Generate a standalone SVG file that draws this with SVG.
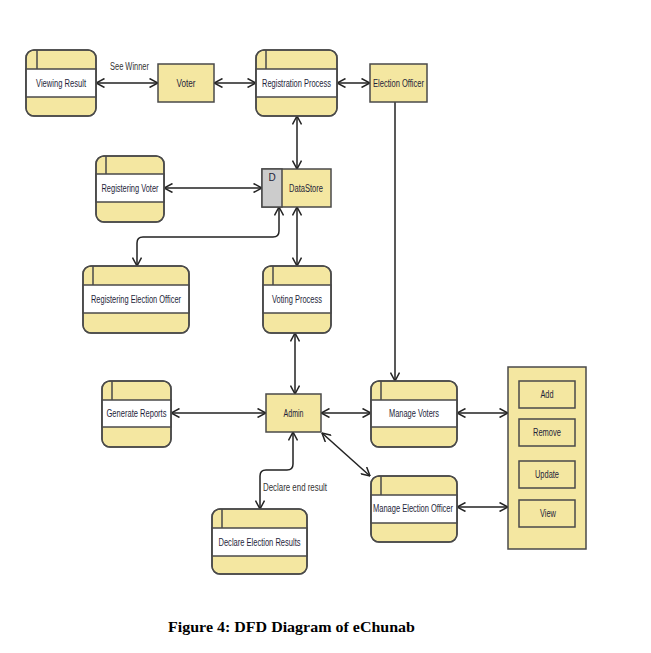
<svg xmlns="http://www.w3.org/2000/svg" width="651" height="653" viewBox="0 0 651 653">
<style>
.y{fill:#F4E7A1;stroke:#4a4a4a;stroke-width:1.5}
.o{fill:none;stroke:#4a4a4a;stroke-width:1.5}
.w{fill:#ffffff;stroke:#4a4a4a;stroke-width:1.5}
.t{font-family:"Liberation Sans",Arial,sans-serif;font-size:10px;fill:#1e1e3a;text-anchor:middle;dominant-baseline:central}
.l{font-family:"Liberation Sans",Arial,sans-serif;font-size:10px;fill:#333;dominant-baseline:central}
.c{fill:none;stroke:#222;stroke-width:1.5;marker-end:url(#a)}
.b{marker-start:url(#a)}
</style>
<defs>
<marker id="a" viewBox="0 0 10 10" refX="9.5" refY="5" markerWidth="10" markerHeight="10" markerUnits="userSpaceOnUse" orient="auto-start-reverse">
<path d="M1,0.5 L9.5,5 L1,9.5" fill="none" stroke="#222" stroke-width="1.5"/>
</marker>
</defs>
<rect width="651" height="653" fill="#ffffff"/>

<g id="connectors">
<line class="c b" x1="96" y1="83" x2="158" y2="83"/>
<line class="c b" x1="214" y1="83" x2="256" y2="83"/>
<line class="c b" x1="337" y1="83" x2="370" y2="83"/>
<line class="c b" x1="297" y1="116" x2="297" y2="169"/>
<line class="c b" x1="164" y1="188" x2="262" y2="188"/>
<path class="c b" d="M279,207 V231 Q279,237 273,237 H143 Q137,237 137,243 V266"/>
<line class="c b" x1="297" y1="207" x2="297" y2="266"/>
<line class="c b" x1="295" y1="333" x2="295" y2="394"/>
<line class="c" x1="395" y1="102" x2="395" y2="381"/>
<line class="c b" x1="171" y1="413" x2="266" y2="413"/>
<line class="c b" x1="321" y1="413" x2="371" y2="413"/>
<line class="c b" x1="457" y1="413" x2="508" y2="413"/>
<line class="c b" x1="322" y1="433" x2="370" y2="476"/>
<path class="c b" d="M293,432 V464 Q293,470 287,470 H266 Q260,470 260,476 V509"/>
<line class="c b" x1="457" y1="507" x2="508" y2="507"/>
<text class="l" x="110" y="66" textLength="39" lengthAdjust="spacingAndGlyphs">See Winner</text>
<text class="l" x="263" y="487" textLength="64" lengthAdjust="spacingAndGlyphs">Declare end result</text>
</g>

<g id="viewing-result">
<rect class="y" x="26" y="50" width="70" height="66" rx="8"/>
<rect class="w" x="26" y="69" width="70" height="28"/>
<line class="o" x1="37" y1="50" x2="37" y2="69"/>
<rect class="o" x="26" y="50" width="70" height="66" rx="8"/>
<text class="t" x="61" y="83" textLength="50" lengthAdjust="spacingAndGlyphs">Viewing Result</text>
</g>

<g id="voter">
<rect class="y" x="158" y="64" width="56" height="38"/>
<text class="t" x="186" y="83" textLength="19" lengthAdjust="spacingAndGlyphs">Voter</text>
</g>

<g id="registration-process">
<rect class="y" x="256" y="50" width="81" height="66" rx="8"/>
<rect class="w" x="256" y="69" width="81" height="28"/>
<line class="o" x1="266" y1="50" x2="266" y2="69"/>
<rect class="o" x="256" y="50" width="81" height="66" rx="8"/>
<text class="t" x="296.5" y="83" textLength="69" lengthAdjust="spacingAndGlyphs">Registration Process</text>
</g>

<g id="election-officer">
<rect class="y" x="370" y="64" width="57" height="38"/>
<text class="t" x="398.5" y="83" textLength="51" lengthAdjust="spacingAndGlyphs">Election Officer</text>
</g>

<g id="datastore">
<rect class="y" x="262" y="169" width="69" height="38"/>
<rect x="262" y="169" width="20" height="38" fill="#cccccc" stroke="#4a4a4a" stroke-width="1.5"/>
<text class="t" x="272" y="177">D</text>
<text class="t" x="306" y="188" textLength="34" lengthAdjust="spacingAndGlyphs">DataStore</text>
</g>

<g id="registering-voter">
<rect class="y" x="96" y="156" width="68" height="66" rx="8"/>
<rect class="w" x="96" y="174" width="68" height="28"/>
<line class="o" x1="106" y1="156" x2="106" y2="174"/>
<rect class="o" x="96" y="156" width="68" height="66" rx="8"/>
<text class="t" x="130" y="188" textLength="57" lengthAdjust="spacingAndGlyphs">Registering Voter</text>
</g>

<g id="registering-election-officer">
<rect class="y" x="83" y="266" width="106" height="67" rx="8"/>
<rect class="w" x="83" y="285" width="106" height="28"/>
<line class="o" x1="93" y1="266" x2="93" y2="285"/>
<rect class="o" x="83" y="266" width="106" height="67" rx="8"/>
<text class="t" x="136" y="299" textLength="90" lengthAdjust="spacingAndGlyphs">Registering Election Officer</text>
</g>

<g id="voting-process">
<rect class="y" x="263" y="266" width="68" height="67" rx="8"/>
<rect class="w" x="263" y="285" width="68" height="28"/>
<line class="o" x1="273" y1="266" x2="273" y2="285"/>
<rect class="o" x="263" y="266" width="68" height="67" rx="8"/>
<text class="t" x="297" y="299" textLength="50" lengthAdjust="spacingAndGlyphs">Voting Process</text>
</g>

<g id="generate-reports">
<rect class="y" x="102" y="381" width="69" height="66" rx="8"/>
<rect class="w" x="102" y="400" width="69" height="27"/>
<line class="o" x1="112" y1="381" x2="112" y2="400"/>
<rect class="o" x="102" y="381" width="69" height="66" rx="8"/>
<text class="t" x="136.5" y="413" textLength="60" lengthAdjust="spacingAndGlyphs">Generate Reports</text>
</g>

<g id="admin">
<rect class="y" x="266" y="394" width="55" height="38"/>
<text class="t" x="293.5" y="413" textLength="20" lengthAdjust="spacingAndGlyphs">Admin</text>
</g>

<g id="manage-voters">
<rect class="y" x="371" y="381" width="86" height="66" rx="8"/>
<rect class="w" x="371" y="400" width="86" height="27"/>
<line class="o" x1="381" y1="381" x2="381" y2="400"/>
<rect class="o" x="371" y="381" width="86" height="66" rx="8"/>
<text class="t" x="414" y="413" textLength="50" lengthAdjust="spacingAndGlyphs">Manage Voters</text>
</g>

<g id="manage-election-officer">
<rect class="y" x="371" y="476" width="86" height="66" rx="8"/>
<rect class="w" x="371" y="495" width="86" height="28"/>
<line class="o" x1="381" y1="476" x2="381" y2="495"/>
<rect class="o" x="371" y="476" width="86" height="66" rx="8"/>
<text class="t" x="413" y="508" textLength="80" lengthAdjust="spacingAndGlyphs">Manage Election Officer</text>
</g>

<g id="declare-election-results">
<rect class="y" x="212" y="509" width="95" height="65" rx="8"/>
<rect class="w" x="212" y="528" width="95" height="28"/>
<line class="o" x1="222" y1="509" x2="222" y2="528"/>
<rect class="o" x="212" y="509" width="95" height="65" rx="8"/>
<text class="t" x="259.5" y="542" textLength="82" lengthAdjust="spacingAndGlyphs">Declare Election Results</text>
</g>

<g id="operations">
<rect class="y" x="508" y="367" width="78" height="182"/>
<rect class="y" x="519" y="381" width="56" height="27"/>
<text class="t" x="547" y="394.5" textLength="13" lengthAdjust="spacingAndGlyphs">Add</text>
<rect class="y" x="519" y="419" width="56" height="27"/>
<text class="t" x="547" y="432.5" textLength="28" lengthAdjust="spacingAndGlyphs">Remove</text>
<rect class="y" x="519" y="461" width="56" height="27"/>
<text class="t" x="547" y="474.5" textLength="24" lengthAdjust="spacingAndGlyphs">Update</text>
<rect class="y" x="519" y="500" width="56" height="27"/>
<text class="t" x="548" y="513.5" textLength="16" lengthAdjust="spacingAndGlyphs">View</text>
</g>

<text x="168" y="632" font-family="'Liberation Serif','Times New Roman',serif" font-size="15" font-weight="bold" fill="#000" textLength="247" lengthAdjust="spacingAndGlyphs">Figure 4: DFD Diagram of eChunab</text>
</svg>
